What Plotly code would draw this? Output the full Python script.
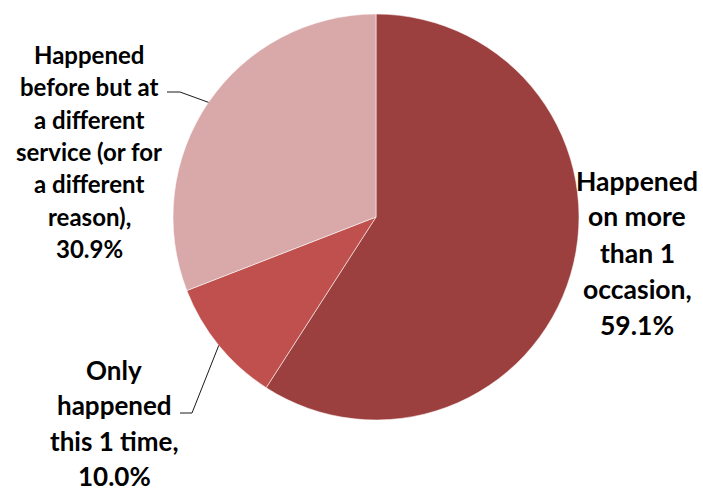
import math
import plotly.graph_objects as go

# ---- data ----
categories = [
    "Happened on more than 1 occasion",
    "Only happened this 1 time",
    "Happened before but at a different service (or for a different reason)",
]
values = [59.1, 10.0, 30.9]
colors = ["#9B403E", "#C0504D", "#D9A8A8"]

# how each label is broken into lines (layout only)
label_lines = [
    ["Happened", "on more", "than 1", "occasion,"],
    ["Only", "happened", "this 1 time,"],
    ["Happened", "before but at", "a different", "service (or for", "a different", "reason),"],
]

W, H = 703, 493
CX, CY, R = 376, 217, 203  # pie centre / radius in pixels

fig = go.Figure(go.Pie(
    labels=categories,
    values=values,
    sort=False,
    direction="clockwise",
    rotation=0,
    textinfo="none",
    hoverinfo="label+percent",
    marker=dict(colors=colors, line=dict(color="rgba(255,255,255,0.55)", width=1)),
    domain=dict(x=[(CX - R) / W, (CX + R) / W], y=[1 - (CY + R) / H, 1 - (CY - R) / H]),
    showlegend=False,
))

def px(x):
    return x / W

def py(y):
    return 1 - y / H

# label placement (layout): centre x, first line centre y, line pitch, font size
placements = [
    (637, 180.5, 36.0, 26.5),
    (114, 370.0, 35.3, 26.0),
    (89, 54.5, 32.3, 24),
]

annotations = []
for lines, val, (cx, y0, pitch, fs) in zip(label_lines, values, placements):
    all_lines = lines + [f"{val:.1f}%"]
    for i, t in enumerate(all_lines):
        annotations.append(dict(
            x=px(cx), y=py(y0 + i * pitch), xref="paper", yref="paper",
            text=f"<b>{t}</b>", showarrow=False, xanchor="center", yanchor="middle",
            font=dict(family="Lato", size=fs, color="#000000"),
        ))

# leader lines: from slice mid-angle on the rim to the label
total = sum(values)
cum = 0
mid_angles = []
for v in values:
    mid_angles.append((cum + v / 2) / total * 360)
    cum += v

def rim(angle_deg):
    a = math.radians(angle_deg)
    return CX + R * math.sin(a), CY - R * math.cos(a)

shapes = []
leaders = {
    1: [(192, 413), (180, 413)],
    2: [(180, 92), (167, 92)],
}
for idx, pts in leaders.items():
    sx, sy = rim(mid_angles[idx])
    path = f"M {px(sx)} {py(sy)} " + " ".join(f"L {px(x)} {py(y)}" for x, y in pts)
    shapes.append(dict(type="path", path=path, xref="paper", yref="paper",
                       line=dict(color="#1a1a1a", width=1)))

fig.update_layout(
    width=W, height=H,
    margin=dict(l=0, r=0, t=0, b=0),
    paper_bgcolor="white", plot_bgcolor="white",
    annotations=annotations,
    shapes=shapes,
)

fig.write_html(
    "out.html",
    config={"displayModeBar": False},
    post_script="document.body.style.margin='0';document.body.style.padding='0';",
)
